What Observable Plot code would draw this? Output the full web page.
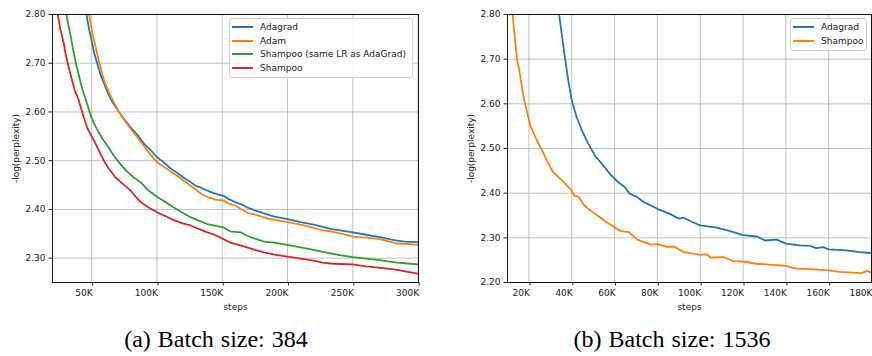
<!DOCTYPE html>
<html>
<head>
<meta charset="utf-8">
<script src="https://cdn.jsdelivr.net/npm/d3@7"></script>
<script src="https://cdn.jsdelivr.net/npm/@observablehq/plot@0.6"></script>
<style>
  html, body { margin: 0; padding: 0; background: #fff; }
  #wrap { position: relative; width: 872px; height: 356px; overflow: hidden; }
  #charts { display: flex; }
  .legend { position: absolute; background: rgba(255,255,255,0.85); border: 1px solid #d0d0d0; border-radius: 3px;
            font-family: "DejaVu Sans", sans-serif; font-size: 9px; color: #222; box-sizing: border-box; padding: 1px 4px 2px 2px; }
  .legend .row { display: flex; align-items: center; height: 13.8px; white-space: nowrap; }
  .legend .sw { display: block; flex: 0 0 21px; width: 21px; height: 2px; margin-right: 7px; }
  .cap { position: absolute; top: 326px; font-family: "Liberation Serif", "Times New Roman", serif; font-size: 24px;
         text-align: center; width: 432px; word-spacing: 1px; color: #000; }
</style>
</head>
<body>
<div id="wrap">
  <div id="charts"></div>
</div>
<script>
// ---------- data: panel (a), batch size 384 (steps in K) ----------
const seriesA = ["Adagrad", "Adam", "Shampoo (same LR as AdaGrad)", "Shampoo"];
const colorsA = ["#1f77b4", "#ff7f0e", "#2ca02c", "#d62728"];

const adagradA_steps = [46,48,50,52,54.2,57,60,63,66,70.8,75,80,85,90,95,100,105,110,115,120,125.7,130,135,140,145,151,155,160,165,170,175,181.8,190,200,210,220,227,233,240,250,260,271,278,284,290,300.5];
const adagradA_vals  = [2.80,2.77,2.745,2.72,2.70,2.675,2.655,2.635,2.62,2.60,2.585,2.568,2.553,2.535,2.522,2.507,2.497,2.485,2.476,2.466,2.456,2.448,2.443,2.437,2.432,2.428,2.421,2.415,2.410,2.403,2.398,2.392,2.385,2.380,2.374,2.369,2.364,2.360,2.357,2.353,2.348,2.343,2.339,2.336,2.334,2.333];

const adamA_steps = [48,50,52,55.9,60,65,70.8,75,80,85,90,95,100,105,110,115,120,125.7,130,135,140,145,151,155,160,165,170,175,180,187,200,210,220,227,233,240,250,260,271,278,284,292,300.5];
const adamA_vals  = [2.80,2.77,2.745,2.70,2.66,2.63,2.60,2.583,2.565,2.548,2.53,2.513,2.497,2.488,2.479,2.470,2.46,2.449,2.44,2.43,2.424,2.42,2.418,2.412,2.408,2.400,2.392,2.39,2.385,2.38,2.374,2.369,2.362,2.357,2.355,2.351,2.344,2.342,2.339,2.334,2.330,2.329,2.327];

const shampooLrA_steps = [30.7,32,34,36,37.9,40,42,44,46.5,49,52,55,59.3,63,67,72,77,82,87.4,93,100,106,112.9,119,125.7,132,138.5,145,151,156,164,169,175,182,190,200,210,220,227,233,240,250,260,271,278,284,292,300.5];
const shampooLrA_vals  = [2.80,2.78,2.755,2.725,2.70,2.678,2.655,2.637,2.617,2.595,2.575,2.56,2.541,2.527,2.51,2.493,2.478,2.466,2.456,2.44,2.426,2.416,2.404,2.394,2.384,2.377,2.370,2.366,2.363,2.355,2.353,2.346,2.340,2.334,2.332,2.327,2.322,2.317,2.313,2.310,2.306,2.302,2.299,2.296,2.293,2.291,2.289,2.287];

const shampooA_steps = [24,26,28.7,30,31.7,33,35,37,40,42.7,45,47,49,52,55.5,59.3,63,68.2,74,79.7,84,87.4,93,100,106,112.9,119,125.7,132,138.5,145,151,156,164,169,175,182,190,200,210,220,227,233,240,250,260,271,278,284,292,300.5];
const shampooA_vals  = [2.80,2.77,2.74,2.72,2.70,2.685,2.665,2.645,2.625,2.60,2.58,2.565,2.555,2.54,2.521,2.50,2.484,2.466,2.452,2.439,2.425,2.415,2.405,2.394,2.387,2.378,2.372,2.367,2.36,2.353,2.347,2.339,2.332,2.326,2.322,2.317,2.312,2.307,2.303,2.299,2.295,2.291,2.289,2.288,2.287,2.283,2.280,2.278,2.276,2.272,2.268];

const xTicksA = [50000, 100000, 150000, 200000, 250000, 300000];
const yTicksA = [2.30, 2.40, 2.50, 2.60, 2.70, 2.80];

// ---------- data: panel (b), batch size 1536 (steps in K) ----------
const seriesB = ["Adagrad", "Shampoo"];
const colorsB = ["#1f77b4", "#ff7f0e"];

const adagradB_steps = [34.1,36.9,38.4,40,42.3,45,47.7,51,55.4,58,61.6,64.7,67,70.6,73.7,80,86.1,90,92.3,96,100,107.8,114,120,126.4,130.3,135.7,140,146.5,151.2,154.3,157.3,160,168.2,174.4,180];
const adagradB_vals  = [2.80,2.70,2.652,2.608,2.570,2.538,2.511,2.483,2.458,2.442,2.425,2.414,2.399,2.391,2.380,2.365,2.353,2.343,2.345,2.336,2.328,2.323,2.315,2.306,2.303,2.294,2.296,2.287,2.283,2.282,2.277,2.279,2.274,2.272,2.268,2.266];

const shampooB_steps = [12.4,14.4,15.5,17.5,20.6,23.7,25.7,28.4,31,35.3,40,41.2,43,45.8,48.5,52,56,59.8,62.9,66.7,70.6,76.8,80,84.6,88,92.3,100,103.2,104.7,110.9,115.5,120,126.4,132.5,140,145,151.2,160,165,171.3,175.2,178,180];
const shampooB_vals  = [2.80,2.70,2.675,2.615,2.552,2.518,2.50,2.473,2.449,2.429,2.406,2.394,2.393,2.373,2.362,2.35,2.336,2.324,2.315,2.313,2.296,2.285,2.286,2.280,2.280,2.268,2.262,2.263,2.256,2.257,2.248,2.247,2.242,2.24,2.237,2.231,2.23,2.227,2.224,2.222,2.221,2.226,2.222];

const xTicksB = [20000, 40000, 60000, 80000, 100000, 120000, 140000, 160000, 180000];
const yTicksB = [2.20, 2.30, 2.40, 2.50, 2.60, 2.70, 2.80];

// ---------- build tables ----------
function table(name, steps, vals) {
  return steps.map((s, i) => ({series: name, step: s * 1000, value: vals[i]}));
}
const dataA = [
  ...table(seriesA[0], adagradA_steps, adagradA_vals),
  ...table(seriesA[1], adamA_steps, adamA_vals),
  ...table(seriesA[2], shampooLrA_steps, shampooLrA_vals),
  ...table(seriesA[3], shampooA_steps, shampooA_vals)
];
const dataB = [
  ...table(seriesB[0], adagradB_steps, adagradB_vals),
  ...table(seriesB[1], shampooB_steps, shampooB_vals)
];

const FONT = "DejaVu Sans";
const kFmt = d => (d / 1000) + "K";
const yFmt = d3.format(".2f");

function panel({data, series, colors, xDomain, yDomain, xTicks, yTicks, marginLeft, marginRight}) {
  return Plot.plot({
    width: 436,
    height: 312,
    marginTop: 14,
    marginBottom: 30,
    marginLeft, marginRight,
    style: {fontFamily: FONT, fontSize: "9px", background: "white", color: "#222", overflow: "visible"},
    x: {domain: xDomain},
    y: {domain: yDomain},
    color: {domain: series, range: colors},
    marks: [
      Plot.gridX(xTicks, {stroke: "#b0b0b0", strokeOpacity: 1, strokeWidth: 0.8}),
      Plot.gridY(yTicks, {stroke: "#b0b0b0", strokeOpacity: 1, strokeWidth: 0.8}),
      Plot.axisX(xTicks, {tickFormat: kFmt, tickSize: 3.5, tickPadding: 3.5, textAnchor: "end", dx: 1,
        label: "steps", labelAnchor: "center", labelArrow: "none", labelOffset: 27, fontSize: 9}),
      Plot.axisY(yTicks, {tickFormat: yFmt, tickSize: 3.5, tickPadding: 3.5,
        label: "-log(perplexity)", labelAnchor: "center", labelArrow: "none", labelOffset: 40, fontSize: 9}),
      Plot.line(data, {x: "step", y: "value", z: "series", stroke: "series", strokeWidth: 1.8, clip: true}),
      Plot.frame({stroke: "#000", strokeWidth: 0.9})
    ]
  });
}

const charts = document.getElementById("charts");
charts.appendChild(panel({data: dataA, series: seriesA, colors: colorsA, xDomain: [20000, 300300], yDomain: [2.25, 2.80],
  xTicks: xTicksA, yTicks: yTicksA, marginLeft: 52, marginRight: 18}));
charts.appendChild(panel({data: dataB, series: seriesB, colors: colorsB, xDomain: [10000, 180000], yDomain: [2.20, 2.80],
  xTicks: xTicksB, yTicks: yTicksB, marginLeft: 71, marginRight: 1}));

// ---------- legends & captions ----------
const wrap = document.getElementById("wrap");
function legend(series, colors, left, top, width) {
  const div = document.createElement("div");
  div.className = "legend";
  div.style.left = left + "px";
  div.style.top = top + "px";
  div.style.width = width + "px";
  series.forEach((s, i) => {
    const row = document.createElement("div");
    row.className = "row";
    const sw = document.createElement("div");
    sw.className = "sw";
    sw.style.background = colors[i];
    const t = document.createElement("span");
    t.textContent = s;
    row.appendChild(sw); row.appendChild(t);
    div.appendChild(row);
  });
  wrap.appendChild(div);
}
legend(seriesA, colorsA, 229, 18, 184);
legend(seriesB, colorsB, 790, 18, 77);

const captions = ["(a) Batch size: 384", "(b) Batch size: 1536"];
[0, 456].forEach((left, i) => {
  const c = document.createElement("div");
  c.className = "cap";
  c.style.left = left + "px";
  c.textContent = captions[i];
  wrap.appendChild(c);
});
</script>
</body>
</html>
